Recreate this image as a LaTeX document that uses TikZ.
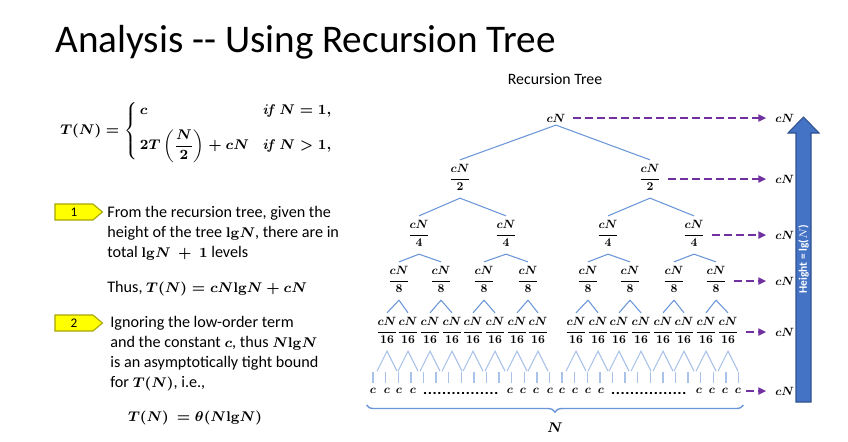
\documentclass[tikz,border=0pt]{standalone}
\usepackage{amsmath,amssymb}
\usepackage{graphicx}
\usepackage[no-math]{fontspec}
\setmainfont{Carlito}
\usepackage{tikz}
\usetikzlibrary{arrows.meta,positioning,calc,shapes.symbols,decorations.pathreplacing}
\definecolor{treeBlue}{HTML}{6A96D8}
\definecolor{leafBlue}{HTML}{A9C2E8}
\definecolor{arrowBlue}{HTML}{4472C4}
\definecolor{arrowEdge}{HTML}{2F528F}
\definecolor{levelPurple}{HTML}{7030A0}
\definecolor{badgeYellow}{HTML}{FFFF00}
\definecolor{badgeEdge}{HTML}{A5A500}
\DeclareMathSizes{9.2}{8.2}{6}{5}
\newcommand{\lgN}{\mathrm{lg}N}
\newcommand{\tm}[1]{\scalebox{0.68}{$\displaystyle #1$}}
\newcommand{\cNover}[1]{\tm{\frac{\strut cN}{\strut #1}}}

\begin{document}
\begin{tikzpicture}[
  x=0.02cm, y=-0.02cm,
  every node/.style={inner sep=0pt},
  title/.style={font=\fontsize{22.3}{26}\selectfont, anchor=base west},
  txt/.style={font=\fontsize{9.2}{11.4}\selectfont\boldmath, align=left, anchor=north west},
  lbl/.style={font=\fontsize{10}{12}\selectfont\boldmath, inner sep=1.5pt},
  leaf/.style={font=\fontsize{10}{12}\selectfont\boldmath},
  sum/.style={font=\fontsize{10}{12}\selectfont\boldmath, anchor=west},
  badge/.style={signal, signal to=east, signal pointer angle=80, fill=badgeYellow, draw=badgeEdge, line width=0.6pt, minimum width=0.95cm, minimum height=0.32cm, font=\fontsize{7.5}{8}\selectfont},
  edge/.style={treeBlue, line width=0.6pt},
  leafedge/.style={leafBlue, line width=0.6pt},
  tick/.style={leafBlue, line width=0.8pt},
  levelarrow/.style={-{Triangle[length=4.5pt, width=4pt]}, levelPurple, dash pattern=on 4.5pt off 2.3pt, line width=1.1pt, shorten <=2.5pt, shorten >=5pt},
  bigarrow/.style={fill=arrowBlue, draw=arrowEdge, line width=0.6pt},
  brace/.style={decorate, decoration={brace, mirror, amplitude=4pt}, treeBlue, line width=0.8pt},
]
\useasboundingbox (0,0) rectangle (848,441);

% title and left column
\node[title] (head) at (55,52) {Analysis -{}- Using Recursion Tree};
\node[font=\fontsize{9}{10}\selectfont] (treetitle) at (555,79) {Recursion Tree};

\node[font=\fontsize{7.8}{10}\selectfont\boldmath, anchor=west] (recur) at (60,131)
  {$T(N)=\begin{cases} \,c & \mathit{if}\ N=1,\\[5pt] \,2T\left(\dfrac{N}{2}\right)+cN & \mathit{if}\ N>1,\end{cases}$};

\node[badge] (step1) at (74,212) {1};
\node[txt] (para1) at (107,206) {From the recursion tree, given the\\height of the tree $\lgN$, there are in\\total $\lgN\ +\ 1$ levels};
\node[txt] (thus) at (107,281) {Thus, $T(N)=cN\lgN+cN$};

\node[badge] (step2) at (74,323) {2};
\node[txt] (para2) at (110,316) {Ignoring the low-order term\\and the constant $c$, thus $N\lgN$\\is an asymptotically tight bound\\for $T(N)$, i.e.,};
\node[font=\fontsize{7.8}{10}\selectfont\boldmath] (bound) at (195,418) {$T(N)\ =\theta(N\lgN)$};

% recursion tree
\node[lbl] (t0-0) at (556,118) {\tm{cN}};
\foreach \x [count=\i from 0] in {460,650}
  \node[lbl] (t1-\i) at (\x,179) {\cNover{2}};
\foreach \x [count=\i from 0] in {419,506,608,694}
  \node[lbl] (t2-\i) at (\x,235) {\cNover{4}};
\foreach \x [count=\i from 0] in {399,441,484,528,588,630,674,716}
  \node[lbl] (t3-\i) at (\x,281) {\cNover{8}};
\foreach \x [count=\i from 0] in {387,408,430,452,473,495,517,538,576,598,619,641,663,684,706,728}
  \node[lbl] (t4-\i) at (\x,332) {\cNover{16}};

\foreach \l in {1,...,4} {
  \pgfmathtruncatemacro\p{\l-1}
  \pgfmathtruncatemacro\n{2^\l-1}
  \foreach \i in {0,...,\n} {
    \pgfmathtruncatemacro\j{floor(\i/2)}
    \draw[edge] (t\p-\j.south) -- (t\l-\i.north);
  }
}
\foreach \i in {0,...,15}
  \draw[leafedge] (t4-\i.south) ++(-10,20) -- (t4-\i.south) -- ++(10,20);
\foreach \k in {0,...,29}
  \draw[tick] ({373+\k*12.6},372) -- ++(0,11);

% leaves
\foreach \x [count=\i] in {373,387,399,413,510,523,536,550,562,575,588,601,699,712,725,738}
  \node[leaf] (l-\i) at (\x,391) {\tm{c}};
\draw[line width=0.7pt, dotted, line cap=round] ($(l-4.east)+(8,2)$) -- ($(l-5.west)+(-8,2)$);
\draw[line width=0.7pt, dotted, line cap=round] ($(l-12.east)+(8,2)$) -- ($(l-13.west)+(-8,2)$);
\coordinate (bl) at ($(l-1.south west)+(-3,11)$);
\coordinate (br) at ($(l-16.south east)+(2,11)$);
\draw[brace] (bl) -- (br) node[midway, below=10pt, font=\fontsize{8.5}{10}\selectfont\boldmath, text=black] (width) {$N$};

% per-level cost
\foreach \y [count=\k from 0] in {118,179,235,281,332,391}
  \node[sum] (s\k) at (775,\y) {\tm{cN}};
\draw[levelarrow] (t0-0) -- (s0);
\draw[levelarrow] (t1-1) -- (s1);
\draw[levelarrow] (t2-3) -- (s2);
\draw[levelarrow] (t3-7) -- (s3);
\draw[levelarrow] (t4-15) -- (s4);
\draw[levelarrow] (l-16) -- (s5);

% height arrow
\filldraw[bigarrow] (796,402) -- (796,133) -- (788,133) -- (803.5,117) -- (819,133) -- (811,133) -- (811,402) -- cycle;
\node[rotate=90, text=white, font=\fontsize{6.5}{7}\selectfont\bfseries] (height) at (803.5,259) {Height = lg($N$)};
\end{tikzpicture}
\end{document}
